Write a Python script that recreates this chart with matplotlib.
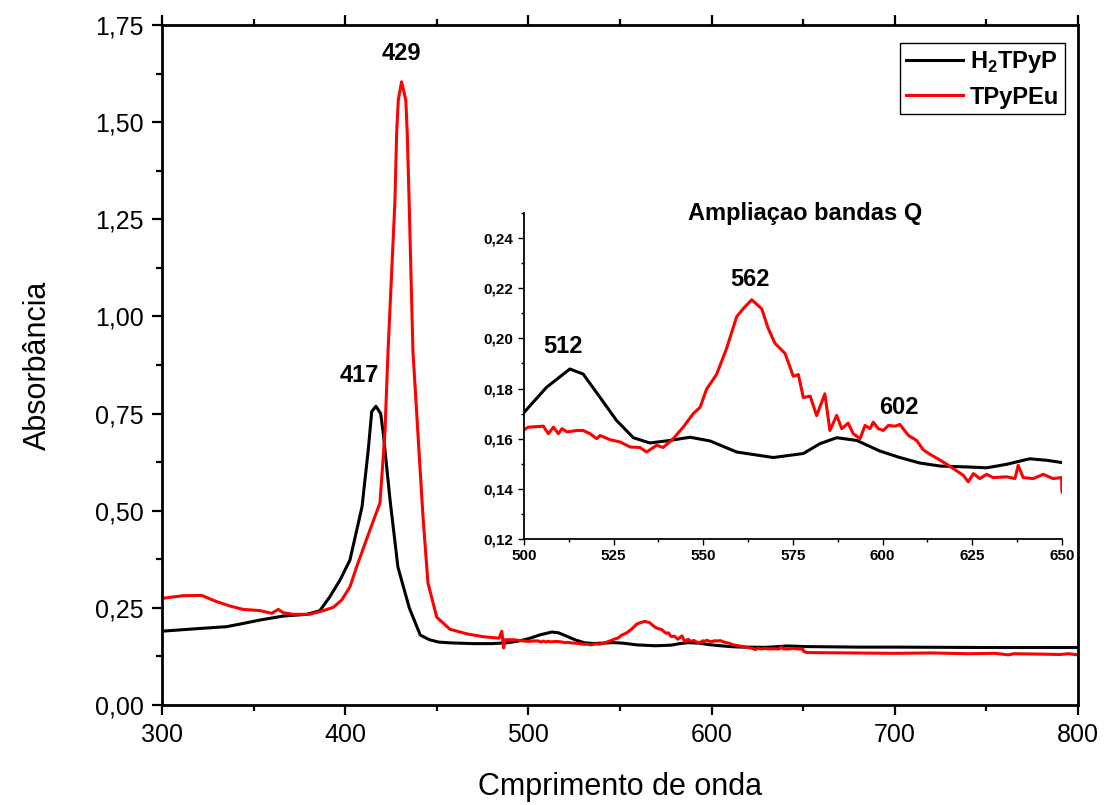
import matplotlib
matplotlib.use('Agg')
from matplotlib import pyplot as plt
from matplotlib.ticker import MultipleLocator, FuncFormatter

plt.rcParams['font.family'] = ['Liberation Sans', 'DejaVu Sans']
plt.rcParams['mathtext.fontset'] = 'custom'
plt.rcParams['mathtext.rm'] = 'Liberation Sans'
plt.rcParams['mathtext.bf'] = 'Liberation Sans:bold'

# H2TPyP (preto)
h2tpyp_wl = [300, 320.7, 335.3, 344.4, 353.5, 366.2, 379, 386.2, 391.7, 397.2, 402.6,
             409.2, 412.6, 414.5, 416.8, 419.4, 420.8, 424.5, 428.8, 435, 441, 446, 451, 457.2,
             470, 480, 488, 494,
             500.1, 506.3, 512.8, 516.5, 521.2, 525.8, 530.5, 535.1, 540.7, 546.3, 551.9,
             559.3, 569.5, 577.9, 582.5, 587.2, 592.8, 599.2, 604.8, 610.4, 616, 624.3,
             629, 634.6, 641, 645.7, 650, 660, 680, 700, 750, 800]
h2tpyp_abs = [0.190, 0.197, 0.2016, 0.210, 0.2187, 0.229, 0.2333, 0.2428, 0.279, 0.3217, 0.373,
              0.51, 0.656, 0.755, 0.769, 0.75, 0.699, 0.528, 0.355, 0.25, 0.18, 0.168, 0.162, 0.160,
              0.158, 0.158, 0.160, 0.164,
              0.1706, 0.1805, 0.1878, 0.1858, 0.1765, 0.1673, 0.1604, 0.1583, 0.1593, 0.1606, 0.1591,
              0.1547, 0.1525, 0.1541, 0.1580, 0.1604, 0.1593, 0.1551, 0.1525, 0.1503, 0.1491, 0.1487,
              0.1484, 0.1498, 0.152, 0.1514, 0.1505, 0.150, 0.149, 0.149, 0.148, 0.148]

# TPyPEu (vermelho)
tpypeu_wl = [300, 311.6, 321.7, 329.9, 337.1, 344.4, 353.5, 359.9, 363.5, 366.2, 371.7,
             380.8, 388, 393.5, 398.1, 402.6, 406.3, 413.5, 419, 421.7, 423.4, 427.2, 428.1, 429,
             430.8, 433.1, 433.9, 434.9, 437, 442.5, 445.2, 450, 457.2, 466.5, 475, 484, 485.5,
             486.5, 487.5, 492, 497,
             500.1, 501.2, 505.4, 506.8, 508.2, 509.6, 510.6, 512, 514.8, 516.5, 518.4,
             520.3, 521.2, 524, 526.8, 529.6, 532.3, 534.2, 537, 538.8, 541.6, 544.4,
             547.2, 549.1, 550.9, 553.7, 556.5, 559.3, 561.1, 563.5, 566.3, 568.1, 570,
             572.8, 575.1, 576.5, 577.9, 579.8, 581.6, 583.9, 585.3, 587.2, 588.6, 590.4,
             591.8, 593.7, 595.1, 596.5, 597.4, 598.8, 600.2, 601.6, 603.5, 604.8, 607.2,
             609.5, 611.3, 613.2, 616.9, 619.7, 622.5, 623.9, 625.3, 627.1, 629, 630.8,
             634.6, 636.9, 637.8, 639.2, 642, 644.8, 647.5, 649.9, 650,
             652, 680, 700, 720, 740, 755, 762, 765, 780, 790, 795, 800]
tpypeu_abs = [0.2745, 0.2814, 0.282, 0.266, 0.2548, 0.246, 0.243, 0.236, 0.246, 0.2376, 0.2333,
              0.2336, 0.2428, 0.2514, 0.270, 0.304, 0.356, 0.45, 0.52, 0.70, 0.91, 1.30, 1.471, 1.557,
              1.604, 1.557, 1.471, 1.30, 0.91, 0.484, 0.314, 0.226, 0.195, 0.183, 0.176, 0.172, 0.19,
              0.147, 0.168, 0.168, 0.165,
              0.1636, 0.1646, 0.165, 0.162, 0.1646, 0.162, 0.164, 0.1627, 0.1633, 0.1633, 0.162,
              0.160, 0.1613, 0.1596, 0.1587, 0.1567, 0.1565, 0.1547, 0.1574, 0.1565, 0.160, 0.1646,
              0.170, 0.1725, 0.1797, 0.1856, 0.196, 0.2086, 0.2118, 0.2154, 0.2118, 0.204, 0.198,
              0.194, 0.1849, 0.1856, 0.1764, 0.177, 0.1692, 0.1779, 0.1633, 0.1693, 0.164, 0.1662,
              0.162, 0.160, 0.1653, 0.164, 0.1666, 0.164, 0.1633, 0.1653, 0.165, 0.1657, 0.1613,
              0.1593, 0.1556, 0.1538, 0.1507, 0.1481, 0.1454, 0.1428, 0.1461, 0.1441, 0.1458, 0.1445,
              0.1448, 0.1441, 0.1494, 0.1445, 0.1441, 0.1458, 0.1441, 0.1445, 0.1388,
              0.135, 0.134, 0.133, 0.134, 0.132, 0.133, 0.129, 0.132, 0.131, 0.130, 0.132, 0.129]

# picos marcados
main_peaks = [(430.5, 1.678, '429'), (408, 0.849, '417')]
q_peaks = [(511, 0.1968, '512'), (563, 0.2233, '562'), (604.5, 0.1726, '602')]

virgula = FuncFormatter(lambda v, p: '{:.2f}'.format(v).replace('.', ','))

fig = plt.figure(figsize=(11.04, 8.05), dpi=100)
ax = fig.add_axes([0.1467, 0.1242, 0.8297, 0.8447])

ax.plot(h2tpyp_wl, h2tpyp_abs, color='black', lw=2.2, label=r'H$_\mathbf{2}$TPyP')
ax.plot(tpypeu_wl, tpypeu_abs, color='#ff0000', lw=2.2, label='TPyPEu')

ax.set_xlim(300, 800)
ax.set_ylim(0, 1.75)
ax.xaxis.set_major_locator(MultipleLocator(100))
ax.xaxis.set_minor_locator(MultipleLocator(50))
ax.yaxis.set_major_locator(MultipleLocator(0.25))
ax.yaxis.set_minor_locator(MultipleLocator(0.125))
ax.yaxis.set_major_formatter(virgula)
ax.tick_params(which='both', direction='out', top=True, right=False, width=1.6, labelsize=18, pad=6)
ax.tick_params(which='major', length=7)
ax.tick_params(which='minor', length=4)
for s in ax.spines.values():
    s.set_linewidth(2)

ax.set_xlabel('Cmprimento de onda', fontsize=22, labelpad=18)
ax.set_ylabel('Absorbância', fontsize=22, labelpad=30)

for x, y, t in main_peaks:
    ax.text(x, y, t, ha='center', va='center', fontsize=17, fontweight='bold')

leg = ax.legend(loc='upper right', bbox_to_anchor=(0.9858, 0.9735), borderaxespad=0,
                prop={'size': 17, 'weight': 'bold'}, fancybox=False, framealpha=1,
                handlelength=2.4, handletextpad=0.3, borderpad=0.25, labelspacing=0.45)
leg.get_frame().set_edgecolor('black')
leg.get_frame().set_linewidth(1)

# ampliacao das bandas Q
ins = fig.add_axes([0.4746, 0.3304, 0.4873, 0.405])
ins.plot(h2tpyp_wl, h2tpyp_abs, color='black', lw=2.2)
ins.plot(tpypeu_wl, tpypeu_abs, color='#ff0000', lw=2.2)
ins.set_xlim(500, 650)
ins.set_ylim(0.12, 0.25)
ins.xaxis.set_major_locator(MultipleLocator(25))
ins.xaxis.set_minor_locator(MultipleLocator(12.5))
ins.yaxis.set_major_locator(MultipleLocator(0.02))
ins.yaxis.set_minor_locator(MultipleLocator(0.01))
ins.yaxis.set_major_formatter(virgula)
ins.spines['top'].set_visible(False)
ins.spines['right'].set_visible(False)
for s in ['left', 'bottom']:
    ins.spines[s].set_linewidth(1.3)
ins.tick_params(which='both', direction='out', width=1, labelsize=11, pad=3)
ins.tick_params(which='major', length=4.5)
ins.tick_params(which='minor', length=2.5)
for lab in ins.get_xticklabels() + ins.get_yticklabels():
    lab.set_fontweight('bold')

ins.text(0.522, 1.0, 'Ampliaçao bandas Q', transform=ins.transAxes, ha='center', va='center',
         fontsize=17, fontweight='bold')
for x, y, t in q_peaks:
    ins.text(x, y, t, ha='center', va='center', fontsize=17, fontweight='bold')

fig.savefig('out.png', dpi=100)
